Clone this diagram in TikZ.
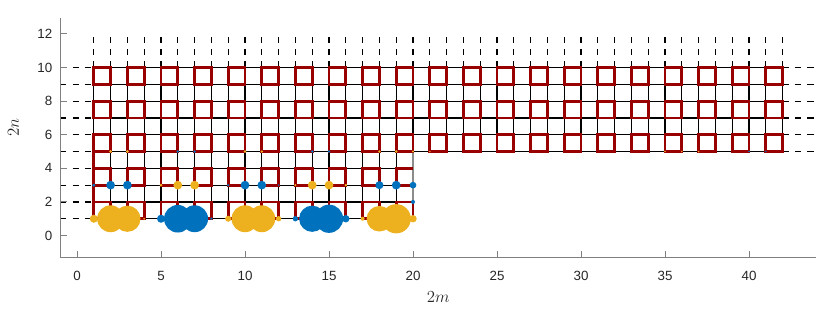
\documentclass[tikz,border=0pt]{standalone}
\usepackage{fontspec}
\setmainfont{Liberation Sans}
\usepackage{amsmath}
\usetikzlibrary{positioning}
\definecolor{plaqred}{rgb}{0.6,0,0}
\definecolor{chgyellow}{rgb}{0.929,0.694,0.125}
\definecolor{chgblue}{rgb}{0,0.447,0.741}
\definecolor{axisgray}{gray}{0.5}
\definecolor{ticktext}{gray}{0.15}

\begin{document}
\begin{tikzpicture}[x=0.42cm, y=0.42cm, every node/.style={font=\fontsize{9.5}{11}\selectfont, text=ticktext, inner sep=0pt}]
      \tikzstyle{link}=[black, line width=0.9pt]
      \tikzstyle{plaq}=[plaqred, line width=2pt]
      \tikzstyle{bdash}=[black, line width=0.9pt, dash pattern=on 4.4pt off 4.4pt]
      \tikzstyle{axisline}=[axisgray, line width=0.7pt]
      \tikzstyle{ychg}=[fill=chgyellow]
      \tikzstyle{bchg}=[fill=chgblue]
      \useasboundingbox (-4.583,-4.872) rectangle (44.82,14.02);

      \foreach \y in {1,...,10} \draw[bdash] (-1,\y) -- (1,\y);
      \foreach \y in {5,...,10} \draw[bdash] (42,\y) -- (44,\y);
      \foreach \x in {1,...,42} \draw[bdash] (\x,10) -- (\x,12);

      \foreach \y in {1,...,4} \draw[link] (1,\y) -- (20,\y);
      \foreach \y in {5,...,10} \draw[link] (1,\y) -- (42,\y);
      \foreach \x in {1,...,19} \draw[link] (\x,1) -- (\x,10);
      \draw[link] (20,5) -- (20,10);
      \draw[link, black!45] (20,1) -- (20,5);
      \foreach \x in {21,...,42} \draw[link] (\x,5) -- (\x,10);

      \foreach \x in {1,3,...,41} \foreach \y in {5,7,9} \draw[plaq] (\x,\y) rectangle ++(1,1);
      \foreach \x in {1,3,...,19} \draw[plaq] (\x,1) rectangle ++(1,1);
      \foreach \x in {1,3,...,17} \draw[plaq] (\x,3) rectangle ++(1,1);
      \draw[plaq] (20,3) -- (19,3) -- (19,4) -- (20,4);
      \draw[plaq] (1,2) -- (1,3) (1,4) -- (1,5);

      \foreach \x/\r in {2/0.09,3/0.09,10/0.08,11/0.08,18/0.08,19/0.08,20/0.07,21/0.05,35/0.05,36/0.05,37/0.05} \fill[ychg] (\x,5) circle (\r);
      \foreach \x/\r in {6/0.08,7/0.08,14/0.08,15/0.08,40/0.05,41/0.05} \fill[bchg] (\x,5) circle (\r);

      \foreach \x/\r in {5/0.09,6/0.26,7/0.26,13/0.07,14/0.26,15/0.26,16/0.08} \fill[ychg] (\x,3) circle (\r);
      \foreach \x/\r in {1/0.1,2/0.26,3/0.26,9/0.07,10/0.26,11/0.26,12/0.05,18/0.24,19/0.26,20/0.2} \fill[bchg] (\x,3) circle (\r);
      \fill[bchg] (20,2) circle (0.12);

      \foreach \x/\r in {1/0.24,2/0.8,3/0.78,4/0.06,9/0.18,10/0.8,11/0.8,12/0.16,17/0.12,18/0.76,19/0.87,20/0.22} \fill[ychg] (\x,1) circle (\r);
      \foreach \x/\r in {5/0.24,6/0.82,7/0.8,8/0.08,13/0.16,14/0.78,15/0.84,16/0.22} \fill[bchg] (\x,1) circle (\r);

      \draw[axisline] (-1,12.95) -- (-1,-1.33) -- (44,-1.33);
      \foreach \y in {0,2,...,12} {
        \draw[axisline] (-1,\y) -- ++(0.42,0);
        \node[anchor=east] (ytick\y) at (-1.46,\y) {\y};
      }
      \foreach \x in {0,5,...,40} {
        \draw[axisline] (\x,-1.33) -- ++(0,0.42);
        \node[anchor=north] (xtick\x) at (\x,-2.13) {\x};
      }
      \node[font=\fontsize{11.5}{13}\selectfont] (xlabel) at (21.5,-3.68) {$2m$};
      \node[font=\fontsize{11.5}{13}\selectfont, rotate=90] (ylabel) at (-3.78,6.42) {$2n$};
    \end{tikzpicture}
\end{document}
